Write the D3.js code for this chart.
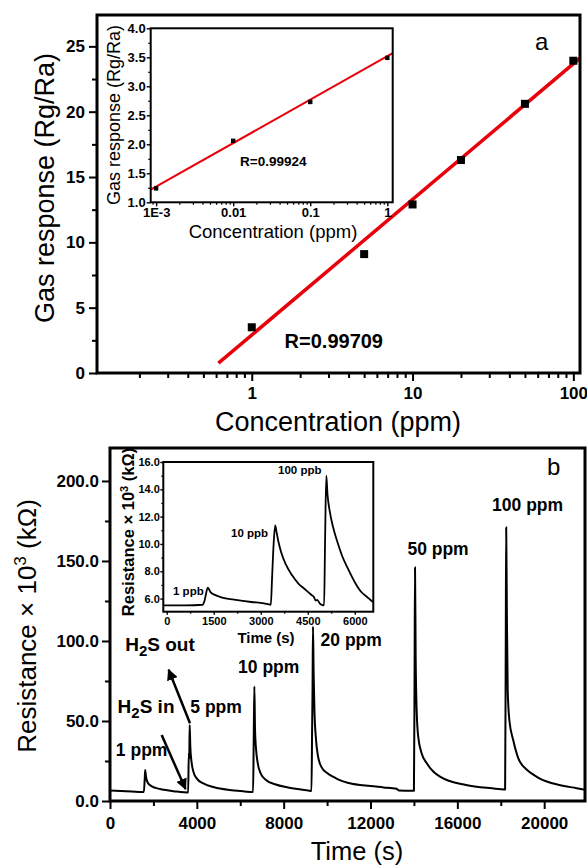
<!DOCTYPE html>
<html>
<head>
<meta charset="utf-8">
<script src="https://d3js.org/d3.v7.min.js"></script>
<style>
  body { margin: 0; background: #fff; }
  svg { font-family: "Liberation Sans", Arial, sans-serif; }
  .frame { fill: none; stroke: #000; }
  .lbl { font-weight: bold; }
</style>
</head>
<body>
<svg id="chart" width="587" height="865"></svg>
<script>
// ---- panel a: gas response vs concentration ----
const concA = [1, 5, 10, 20, 50, 100];
const respA = [3.5, 9.1, 12.9, 16.3, 20.6, 23.9];
const fitAx = [0.62, 110];
const fitAy = [0.75, 24.1];
const ticksAx = [1, 10, 100];
const ticksAy = [0, 5, 10, 15, 20, 25];

// inset a (ppb range)
const concIn = [0.001, 0.01, 0.1, 1];
const respIn = [1.24, 2.06, 2.73, 3.49];
const fitInx = [0.00085, 1.175];
const fitIny = [1.22, 3.57];
const ticksInx = [0.001, 0.01, 0.1, 1];
const labelsInx = ["1E-3", "0.01", "0.1", "1"];
const ticksIny = [1.0, 1.5, 2.0, 2.5, 3.0, 3.5, 4.0];

// ---- panel b: resistance vs time ----
const timeB = [0, 500, 1000, 1500, 1560, 1600, 1620, 1660, 1720, 1850, 2100, 2500, 3000, 3400, 3580,
  3600, 3630, 3650, 3670, 3700, 3760, 3850, 4000, 4300, 4800, 5500, 6200, 6560,
  6590, 6620, 6650, 6680, 6730, 6800, 6950, 7200, 7600, 8200, 8800, 9250,
  9280, 9310, 9330, 9350, 9380, 9420, 9480, 9580, 9750, 10000, 10270, 10500, 11000, 12000, 12600, 13200, 13300, 13950,
  14000, 14030, 14050, 14080, 14130, 14200, 14350, 14600, 15200, 16400, 17600, 18180,
  18200, 18230, 18250, 18280, 18320, 18400, 18575, 18800, 19200, 19500, 19800, 20700, 21500, 21880];
const resB = [6.5, 6.2, 5.9, 5.6, 5.6, 14, 19.4, 15, 12, 9.8, 8.2, 7.0, 6.0, 5.4, 5.3,
  5.3, 30, 26, 47.5, 34, 24, 18, 14, 11, 8.6, 6.9, 6.0, 5.6,
  5.6, 38, 71.5, 45, 32, 24, 17, 13, 10.5, 8.5, 7.2, 6.3,
  6.2, 45, 70, 109, 80, 55, 40, 28, 21, 17.5, 15.2, 13.5, 11.2, 9.3, 8.5, 7.6, 6.6, 6.4,
  6.4, 80, 146, 90, 55, 40, 30, 23.5, 15.2, 10, 7.9, 7.2,
  7.2, 100, 171, 120, 69, 50, 38, 27, 19.5, 16.5, 14, 10, 8, 7];
const ticksBx = [0, 4000, 8000, 12000, 16000, 20000];
const ticksBy = [0, 50, 100, 150, 200];
const peakLabels = ["1 ppm", "5 ppm", "10 ppm", "20 ppm", "50 ppm", "100 ppm"];
const peakLabelAt = [[270, 28], [3700, 55], [5900, 80], [9700, 97], [13700, 154], [17600, 181]];

// inset b (ppb range)
const timeIn = [-100, 0, 600, 1150, 1200, 1310, 1400, 1550, 1800, 2200, 2700, 3100, 3320,
  3360, 3410, 3460, 3500, 3560, 3650, 3800, 4000, 4200, 4400, 4600, 4700, 4750, 4800, 4900, 5020,
  5050, 5090, 5130, 5200, 5310, 5450, 5600, 5800, 6000, 6200, 6400, 6500, 6580];
const resIn = [5.5, 5.5, 5.5, 5.55, 5.8, 6.8, 6.45, 6.25, 6.05, 5.9, 5.75, 5.65, 5.55,
  7.5, 10, 11.35, 10.9, 10.2, 9.4, 8.5, 7.7, 7.1, 6.7, 6.3, 6.1, 5.85, 5.9, 5.6, 5.5,
  10, 15.0, 13.6, 12.4, 11.2, 10.1, 9.1, 8.1, 7.2, 6.5, 6.1, 5.9, 5.75];
const ticksInBx = [0, 1500, 3000, 4500, 6000];
const ticksInBy = [6, 8, 10, 12, 14, 16];
const ppbLabels = ["1 ppb", "10 ppb", "100 ppb"];
const ppbLabelAt = [[200, 6.25], [2050, 10.5], [3550, 15.1]];

const svg = d3.select("#chart");

function styleAxis(g, size, sw) {
  g.select(".domain").remove();
  g.selectAll("line").attr("stroke", "#000").attr("stroke-width", sw);
  g.selectAll("text").attr("class", "lbl").attr("font-size", size).attr("fill", "#000");
}

// ================= panel a =================
const ax = d3.scaleLog().domain([0.109, 110]).range([97, 580]);
const ay = d3.scaleLinear().domain([0, 27.4]).range([373, 15]);

svg.append("g").attr("transform", "translate(0,373)")
  .call(d3.axisBottom(ax).tickValues(ax.ticks().filter(d => !ticksAx.includes(d))).tickSize(5).tickFormat(""))
  .call(g => styleAxis(g, 17, 2));
svg.append("g").attr("transform", "translate(0,373)")
  .call(d3.axisBottom(ax).tickValues(ticksAx).tickSize(8).tickPadding(6).tickFormat(d3.format("d")))
  .call(g => styleAxis(g, 17, 2));
svg.append("g").attr("transform", "translate(97,0)")
  .call(d3.axisLeft(ay).tickValues(d3.range(2.5, 27, 5)).tickSize(5).tickFormat(""))
  .call(g => styleAxis(g, 17, 2));
svg.append("g").attr("transform", "translate(97,0)")
  .call(d3.axisLeft(ay).tickValues(ticksAy).tickSize(8).tickPadding(4).tickFormat(d3.format("d")))
  .call(g => styleAxis(g, 17, 2));

svg.append("path")
  .attr("d", d3.line().x(d => ax(d[0])).y(d => ay(d[1]))(d3.zip(fitAx, fitAy)))
  .attr("stroke", "#e8000b").attr("stroke-width", 3.5).attr("fill", "none");

svg.selectAll("rect.ptA").data(d3.zip(concA, respA)).join("rect")
  .attr("class", "ptA")
  .attr("x", d => ax(d[0]) - 4).attr("y", d => ay(d[1]) - 4)
  .attr("width", 8).attr("height", 8).attr("fill", "#000");

svg.append("rect").attr("class", "frame")
  .attr("x", 97).attr("y", 15).attr("width", 483).attr("height", 358).attr("stroke-width", 3);

svg.append("text").attr("x", ax(1.6)).attr("y", 348).attr("class", "lbl").attr("font-size", 20)
  .text("R=0.99709");
svg.append("text").attr("x", 535).attr("y", 50).attr("font-size", 24).text("a");

svg.append("text").attr("transform", "translate(54,188) rotate(-90)")
  .attr("text-anchor", "middle").attr("font-size", 27).text("Gas response (Rg/Ra)");
svg.append("text").attr("x", 338).attr("y", 431)
  .attr("text-anchor", "middle").attr("font-size", 27).text("Concentration (ppm)");

// ---- inset a ----
const ix = d3.scaleLog().domain([0.00085, 1.175]).range([150.7, 392.7]);
const iy = d3.scaleLinear().domain([1, 4]).range([202.3, 28.3]);

svg.append("rect").attr("x", 150.7).attr("y", 28.3).attr("width", 242).attr("height", 174).attr("fill", "#fff");

svg.append("g").attr("transform", "translate(0,202.3)")
  .call(d3.axisBottom(ix).tickValues(ix.ticks().filter(d => ![0.001, 0.01, 0.1, 1].some(m => Math.abs(d - m) < m * 1e-6))).tickSize(2.5).tickFormat(""))
  .call(g => styleAxis(g, 13, 1.2));
svg.append("g").attr("transform", "translate(0,202.3)")
  .call(d3.axisBottom(ix).tickValues(ticksInx).tickSize(4).tickPadding(1.5).tickFormat((d, i) => labelsInx[i]))
  .call(g => styleAxis(g, 13, 1.4));
svg.append("g").attr("transform", "translate(150.7,0)")
  .call(d3.axisLeft(iy).tickValues(d3.range(1.25, 4, 0.5)).tickSize(2.5).tickFormat(""))
  .call(g => styleAxis(g, 13, 1.2));
svg.append("g").attr("transform", "translate(150.7,0)")
  .call(d3.axisLeft(iy).tickValues(ticksIny).tickSize(4).tickPadding(1).tickFormat(d3.format(".1f")))
  .call(g => styleAxis(g, 13, 1.4));

svg.append("path")
  .attr("d", d3.line().x(d => ix(d[0])).y(d => iy(d[1]))(d3.zip(fitInx, fitIny)))
  .attr("stroke", "#e8000b").attr("stroke-width", 2).attr("fill", "none");
svg.selectAll("rect.ptIn").data(d3.zip(concIn, respIn)).join("rect")
  .attr("class", "ptIn")
  .attr("x", d => ix(d[0]) - 2.2).attr("y", d => iy(d[1]) - 2.2)
  .attr("width", 4.4).attr("height", 4.4).attr("fill", "#000");

svg.append("rect").attr("class", "frame")
  .attr("x", 150.7).attr("y", 28.3).attr("width", 242).attr("height", 174).attr("stroke-width", 2);

svg.append("text").attr("x", 240).attr("y", 166).attr("class", "lbl").attr("font-size", 13.5)
  .text("R=0.99924");
svg.append("text").attr("transform", "translate(120,115) rotate(-90)")
  .attr("text-anchor", "middle").attr("font-size", 18).text("Gas response (Rg/Ra)");
svg.append("text").attr("x", 273).attr("y", 238)
  .attr("text-anchor", "middle").attr("font-size", 18.5).text("Concentration (ppm)");

// ================= panel b =================
const bx = d3.scaleLinear().domain([0, 21880]).range([110, 585]);
const by = d3.scaleLinear().domain([0, 220.6]).range([801, 448]);

svg.append("g").attr("transform", "translate(0,801)")
  .call(d3.axisBottom(bx).tickValues(d3.range(2000, 21880, 4000)).tickSize(5).tickFormat(""))
  .call(g => styleAxis(g, 17, 2));
svg.append("g").attr("transform", "translate(0,801)")
  .call(d3.axisBottom(bx).tickValues(ticksBx).tickSize(8).tickPadding(8).tickFormat(d3.format("d")))
  .call(g => styleAxis(g, 17, 2));
svg.append("g").attr("transform", "translate(110,0)")
  .call(d3.axisLeft(by).tickValues(d3.range(25, 220, 50)).tickSize(5).tickFormat(""))
  .call(g => styleAxis(g, 17, 2));
svg.append("g").attr("transform", "translate(110,0)")
  .call(d3.axisLeft(by).tickValues(ticksBy).tickSize(8).tickPadding(3).tickFormat(d3.format(".1f")))
  .call(g => styleAxis(g, 17, 2));

svg.append("path")
  .attr("d", d3.line().curve(d3.curveMonotoneX).x(d => bx(d[0])).y(d => by(d[1]))(d3.zip(timeB, resB)))
  .attr("stroke", "#000").attr("stroke-width", 2).attr("fill", "none").attr("stroke-linejoin", "round");

svg.append("rect").attr("class", "frame")
  .attr("x", 110).attr("y", 448).attr("width", 475).attr("height", 353).attr("stroke-width", 3);

svg.selectAll("text.peak").data(peakLabels).join("text")
  .attr("class", "lbl")
  .attr("x", (d, i) => bx(peakLabelAt[i][0])).attr("y", (d, i) => by(peakLabelAt[i][1]))
  .attr("font-size", 17.5).text(d => d);

// H2S in / out annotations with arrows
const defs = svg.append("defs");
defs.append("marker").attr("id", "arr").attr("viewBox", "0 0 10 10")
  .attr("refX", 9).attr("refY", 5).attr("markerWidth", 4.5).attr("markerHeight", 4.5)
  .attr("orient", "auto").append("path").attr("d", "M0,0 L10,5 L0,10 Z").attr("fill", "#000");

const arrows = [[[2380, 41.2], [3480, 7.5]], [[3685, 48.6], [2700, 82]]];
svg.selectAll("line.arr").data(arrows).join("line")
  .attr("x1", d => bx(d[0][0])).attr("y1", d => by(d[0][1]))
  .attr("x2", d => bx(d[1][0])).attr("y2", d => by(d[1][1]))
  .attr("stroke", "#000").attr("stroke-width", 2.5).attr("marker-end", "url(#arr)");

function h2s(x, y, rest) {
  const t = svg.append("text").attr("class", "lbl").attr("x", x).attr("y", y).attr("font-size", 19);
  t.append("tspan").text("H");
  t.append("tspan").attr("dy", 5).attr("font-size", 15).text("2");
  t.append("tspan").attr("dy", -5).text("S " + rest);
}
h2s(bx(350), by(55), "in");
h2s(bx(700), by(93.8), "out");

svg.append("text").attr("x", 547).attr("y", 475).attr("font-size", 24).text("b");

const yLabB = svg.append("text").attr("transform", "translate(36,626) rotate(-90)")
  .attr("text-anchor", "middle").attr("font-size", 26);
yLabB.append("tspan").text("Resistance \u00d7 10");
yLabB.append("tspan").attr("dy", -10).attr("font-size", 17).text("3");
yLabB.append("tspan").attr("dy", 10).text(" (k\u03a9)");

svg.append("text").attr("x", 357).attr("y", 860)
  .attr("text-anchor", "middle").attr("font-size", 25.5).text("Time (s)");

// ---- inset b ----
const jx = d3.scaleLinear().domain([-110, 6590]).range([163.3, 373.3]);
const jy = d3.scaleLinear().domain([5.04, 16]).range([611.7, 462]);

svg.append("rect").attr("x", 163.3).attr("y", 462).attr("width", 210).attr("height", 149.7).attr("fill", "#fff");

svg.append("g").attr("transform", "translate(0,611.7)")
  .call(d3.axisBottom(jx).tickValues(d3.range(750, 6590, 1500)).tickSize(2).tickFormat(""))
  .call(g => styleAxis(g, 11, 1.2));
svg.append("g").attr("transform", "translate(0,611.7)")
  .call(d3.axisBottom(jx).tickValues(ticksInBx).tickSize(3).tickPadding(3).tickFormat(d3.format("d")))
  .call(g => styleAxis(g, 11, 1.4));
svg.append("g").attr("transform", "translate(163.3,0)")
  .call(d3.axisLeft(jy).tickValues(d3.range(7, 16, 2)).tickSize(2).tickFormat(""))
  .call(g => styleAxis(g, 11, 1.2));
svg.append("g").attr("transform", "translate(163.3,0)")
  .call(d3.axisLeft(jy).tickValues(ticksInBy).tickSize(3).tickPadding(0.5).tickFormat(d3.format(".1f")))
  .call(g => styleAxis(g, 11, 1.4));

svg.append("path")
  .attr("d", d3.line().curve(d3.curveMonotoneX).x(d => jx(d[0])).y(d => jy(d[1]))(d3.zip(timeIn, resIn)))
  .attr("stroke", "#000").attr("stroke-width", 1.8).attr("fill", "none").attr("stroke-linejoin", "round");

svg.append("rect").attr("class", "frame")
  .attr("x", 163.3).attr("y", 462).attr("width", 210).attr("height", 149.7).attr("stroke-width", 2);

svg.selectAll("text.ppb").data(ppbLabels).join("text")
  .attr("class", "lbl")
  .attr("x", (d, i) => jx(ppbLabelAt[i][0])).attr("y", (d, i) => jy(ppbLabelAt[i][1]))
  .attr("font-size", 11.5).text(d => d);

const yLabIn = svg.append("text").attr("class", "lbl").attr("transform", "translate(134,532) rotate(-90)")
  .attr("text-anchor", "middle").attr("font-size", 16.5);
yLabIn.append("tspan").text("Resistance \u00d7 10");
yLabIn.append("tspan").attr("dy", -6).attr("font-size", 11).text("3");
yLabIn.append("tspan").attr("dy", 6).text(" (k\u03a9)");

svg.append("text").attr("class", "lbl").attr("x", 266).attr("y", 643)
  .attr("text-anchor", "middle").attr("font-size", 15).text("Time (s)");
</script>
</body>
</html>
